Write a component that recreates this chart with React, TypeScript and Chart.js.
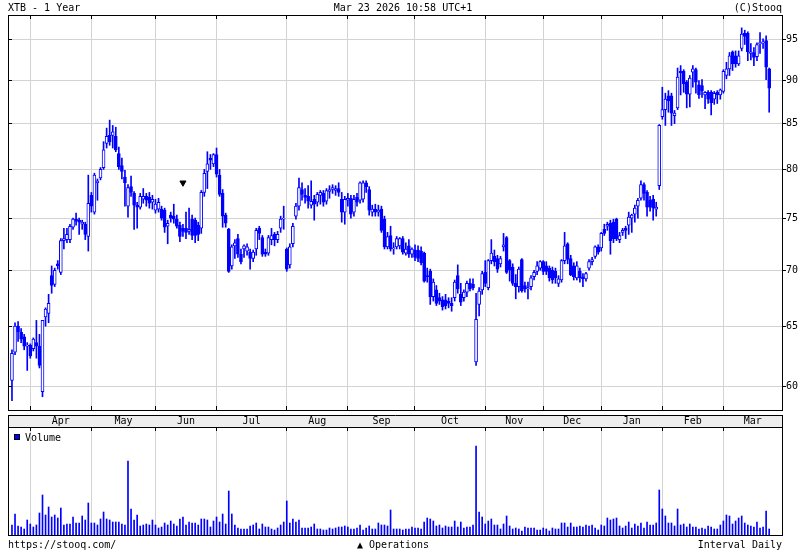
import React, { useEffect, useRef } from "react";
import { Chart, registerables } from "chart.js";
Chart.register(...registerables);

// ---- data (trading-day index 0 = Mar 24 2025 ... 248 = Mar 23 2026) ----
const monthStarts = [6, 26, 47, 67, 90, 110, 132, 155, 174, 193, 213, 233];
const monthLabels = ["Apr", "May", "Jun", "Jul", "Aug", "Sep", "Oct", "Nov", "Dec", "Jan", "Feb", "Mar"];
const priceTicks = [60, 65, 70, 75, 80, 85, 90, 95];

const opens = [
  60.5, 62.8, 65.0, 64.5, 64.1, 63.3, 63.4, 63.1, 63.6, 63.3,
  59.6, 65.8, 66.1, 69.5, 68.7, 70.6, 69.8, 72.8, 72.9, 72.9,
  74.1, 74.9, 74.8, 74.4, 74.4, 73.2, 77.3, 75.6, 78.6, 79.1,
  80.2, 82.8, 83.7, 83.7, 83.6, 81.7, 80.4, 79.2, 76.2, 78.2,
  77.5, 76.3, 76.1, 76.9, 77.2, 77.1, 76.6, 75.8, 75.9, 75.9,
  75.8, 74.2, 75.3, 75.2, 74.9, 74.3, 74.0, 74.0, 73.7, 74.9,
  74.8, 74.3, 74.0, 77.6, 79.8, 81.2, 80.6, 81.6, 79.4, 77.5,
  75.3, 73.9, 70.4, 72.3, 73.0, 71.5, 72.0, 71.8, 71.7, 71.1,
  72.0, 74.0, 73.1, 71.7, 71.6, 72.9, 73.4, 72.9, 74.0, 74.9,
  72.0, 70.5, 72.5, 75.2, 76.2, 77.9, 77.3, 77.2, 76.3, 76.9,
  76.6, 77.3, 77.5, 76.7, 77.7, 77.9, 77.8, 78.0, 76.9, 75.6,
  76.8, 77.0, 75.6, 77.1, 76.8, 76.9, 78.6, 77.9, 75.6, 75.9,
  75.6, 75.9, 74.9, 72.2, 73.3, 72.0, 72.2, 72.3, 73.0, 71.6,
  72.3, 71.5, 71.9, 71.9, 71.8, 71.6, 69.5, 69.9, 67.6, 68.2,
  67.5, 67.3, 67.3, 67.2, 67.0, 67.5, 69.5, 67.8, 67.5, 68.0,
  68.8, 68.7, 62.0, 66.9, 68.2, 69.8, 68.4, 70.9, 71.3, 71.1,
  70.6, 72.2, 73.1, 70.9, 70.3, 68.8, 68.5, 71.0, 68.6, 68.3,
  68.5, 69.4, 69.9, 70.2, 70.8, 70.4, 70.2, 70.0, 69.9, 68.8,
  69.1, 70.9, 72.5, 71.1, 70.4, 69.3, 69.9, 69.4, 69.2, 70.2,
  70.8, 71.3, 72.2, 72.1, 73.9, 74.2, 74.5, 74.6, 74.9, 72.9,
  73.6, 74.0, 74.3, 75.0, 75.4, 76.2, 77.0, 78.4, 77.6, 76.8,
  76.9, 75.9, 78.3, 85.8, 86.6, 88.2, 88.2, 85.9, 86.8, 91.1,
  91.1, 89.8, 88.4, 91.0, 91.3, 89.5, 89.4, 88.3, 88.6, 88.6,
  87.8, 88.6, 88.3, 88.7, 90.6, 91.4, 93.5, 93.0, 92.0, 93.9,
  95.8, 95.8, 93.3, 93.4, 92.9, 94.5, 94.6, 94.9, 91.4,
];
const highs = [
  63.0, 65.3, 65.4, 64.8, 64.3, 63.6, 63.5, 64.0, 65.5, 64.3,
  65.5, 66.6, 67.8, 70.4, 70.2, 70.9, 73.0, 74.0, 74.0, 74.4,
  75.0, 75.5, 75.0, 74.8, 74.6, 79.4, 77.6, 79.6, 79.0, 80.2,
  83.0, 84.5, 85.4, 84.8, 84.6, 82.4, 81.2, 79.9, 78.4, 79.3,
  77.7, 76.6, 77.5, 78.0, 77.5, 77.6, 77.3, 76.9, 77.0, 76.2,
  76.0, 74.8, 75.6, 76.4, 75.3, 74.6, 74.4, 75.6, 76.0, 75.3,
  75.0, 74.6, 77.8, 80.0, 81.9, 81.6, 81.7, 82.3, 80.0, 77.9,
  75.5, 74.0, 72.4, 72.9, 73.4, 72.0, 72.4, 72.5, 72.0, 71.9,
  74.0, 74.2, 73.3, 72.0, 73.3, 74.0, 73.6, 73.7, 75.2, 76.2,
  72.1, 72.5, 74.5, 76.5, 79.1, 78.6, 78.0, 78.3, 78.8, 77.3,
  77.6, 77.8, 77.8, 78.0, 78.3, 78.4, 78.3, 78.6, 77.6, 77.2,
  77.5, 77.3, 77.3, 77.5, 78.7, 78.8, 78.8, 78.2, 76.3, 76.4,
  76.3, 76.2, 75.2, 73.6, 74.2, 72.6, 73.2, 73.1, 73.2, 72.6,
  72.9, 72.1, 72.4, 72.3, 72.2, 71.7, 70.2, 70.1, 69.2, 68.6,
  67.9, 67.6, 67.8, 67.5, 67.5, 69.1, 70.5, 68.8, 68.2, 69.0,
  69.2, 69.2, 67.9, 68.4, 69.9, 70.9, 71.0, 72.9, 71.9, 71.4,
  71.3, 73.5, 73.2, 71.0, 70.6, 69.6, 70.3, 71.1, 68.9, 68.9,
  69.5, 70.0, 70.8, 70.9, 70.9, 70.8, 70.4, 70.3, 70.2, 69.5,
  71.0, 73.6, 72.6, 71.4, 70.7, 70.8, 70.2, 69.7, 69.8, 71.0,
  71.2, 72.3, 72.4, 73.6, 74.4, 74.6, 74.8, 74.9, 75.0, 73.6,
  74.0, 74.2, 75.6, 75.4, 76.3, 77.0, 78.8, 78.6, 77.8, 77.2,
  77.3, 76.6, 84.9, 89.2, 88.5, 88.8, 88.5, 86.5, 91.5, 91.8,
  91.3, 90.0, 90.6, 91.8, 91.5, 90.0, 90.1, 88.7, 88.8, 88.8,
  88.7, 88.8, 89.0, 91.3, 92.2, 93.4, 93.6, 93.6, 93.6, 96.5,
  96.2, 96.0, 94.5, 94.0, 94.6, 95.9, 95.1, 95.5, 91.5,
];
const lows = [
  58.9, 62.6, 63.7, 63.6, 63.0, 61.3, 62.3, 62.9, 62.3, 61.5,
  59.2, 65.0, 65.3, 67.9, 68.5, 70.1, 69.6, 72.0, 72.6, 72.6,
  73.9, 74.3, 73.4, 73.9, 72.9, 71.8, 75.6, 75.4, 76.8, 78.9,
  80.0, 82.3, 82.6, 82.3, 81.9, 80.0, 79.0, 76.2, 75.1, 77.2,
  73.9, 74.0, 75.9, 76.5, 76.2, 76.0, 75.9, 75.5, 75.6, 74.8,
  73.6, 72.5, 74.6, 74.5, 74.0, 72.7, 73.2, 73.0, 73.4, 72.9,
  72.6, 72.8, 73.5, 77.2, 78.0, 80.0, 80.3, 79.2, 77.2, 74.1,
  74.1, 69.8, 70.1, 71.1, 71.2, 70.6, 71.2, 71.4, 70.1, 70.8,
  71.4, 72.9, 71.3, 71.3, 71.4, 72.4, 72.3, 72.6, 73.6, 73.9,
  69.9, 70.2, 72.2, 74.9, 75.8, 76.8, 76.5, 76.0, 76.0, 74.8,
  76.2, 76.4, 76.2, 76.4, 77.0, 77.5, 77.3, 77.2, 74.6, 74.4,
  76.2, 75.0, 75.2, 76.2, 76.5, 76.6, 77.6, 75.3, 75.2, 75.2,
  75.2, 73.6, 72.0, 72.0, 71.8, 71.5, 72.0, 72.0, 71.5, 71.4,
  71.2, 71.2, 70.9, 70.8, 70.5, 68.9, 68.9, 66.9, 67.2, 66.8,
  66.9, 66.4, 66.5, 66.6, 66.3, 67.2, 67.9, 66.8, 67.2, 67.6,
  68.1, 68.2, 61.7, 65.9, 67.8, 68.5, 68.2, 70.6, 70.4, 69.8,
  70.3, 71.8, 69.7, 69.0, 68.6, 67.4, 68.0, 68.0, 68.0, 67.4,
  68.2, 69.1, 69.6, 70.0, 69.6, 69.6, 69.0, 68.8, 68.8, 68.5,
  68.9, 70.6, 70.6, 69.5, 69.1, 69.1, 68.9, 68.5, 69.0, 70.0,
  70.5, 71.1, 71.5, 71.8, 73.3, 73.8, 71.5, 72.6, 72.8, 72.6,
  73.3, 73.0, 73.4, 73.6, 74.6, 75.0, 76.8, 76.8, 75.2, 75.7,
  74.8, 75.2, 77.9, 85.5, 84.8, 86.3, 84.8, 85.0, 86.6, 88.3,
  88.6, 86.8, 86.9, 89.2, 88.5, 87.9, 88.0, 86.7, 87.3, 86.0,
  87.2, 87.3, 87.8, 88.5, 90.2, 90.6, 91.2, 91.6, 91.8, 93.6,
  94.4, 92.4, 92.5, 91.8, 92.4, 93.3, 93.9, 90.1, 86.3,
];
const closes = [
  62.7, 65.0, 64.5, 63.9, 63.3, 63.4, 62.5, 63.9, 63.3, 61.7,
  65.5, 66.5, 67.0, 68.6, 70.0, 70.4, 72.8, 73.0, 73.4, 74.2,
  74.9, 74.7, 74.6, 74.6, 73.4, 76.5, 76.2, 79.4, 78.8, 80.0,
  82.1, 83.6, 83.0, 84.1, 82.1, 80.3, 79.8, 78.6, 78.1, 77.6,
  76.3, 76.1, 77.2, 77.2, 76.8, 76.5, 76.9, 76.4, 76.6, 75.0,
  74.1, 74.5, 75.0, 74.9, 74.2, 73.2, 73.7, 73.6, 73.9, 73.3,
  73.3, 73.4, 77.6, 79.6, 80.6, 81.0, 81.6, 79.5, 77.4, 75.2,
  74.5, 69.9, 72.2, 72.6, 71.5, 70.8, 72.3, 72.2, 71.1, 71.7,
  73.8, 73.5, 71.5, 71.5, 73.1, 73.3, 72.9, 73.4, 74.9, 75.0,
  70.1, 72.2, 74.2, 76.2, 78.1, 77.4, 77.1, 76.7, 76.7, 76.4,
  77.4, 77.6, 76.6, 77.8, 77.9, 78.1, 78.0, 77.6, 75.6, 76.9,
  77.0, 75.4, 76.9, 76.6, 78.6, 78.6, 78.2, 75.8, 75.9, 75.6,
  75.8, 73.8, 72.2, 73.2, 72.0, 72.1, 73.0, 73.0, 71.7, 72.0,
  71.5, 72.0, 71.2, 71.1, 70.7, 69.0, 69.4, 67.6, 68.9, 67.0,
  67.2, 66.7, 66.8, 67.0, 66.8, 68.9, 68.3, 67.1, 68.0, 68.8,
  68.3, 68.4, 65.6, 68.1, 69.7, 68.8, 70.9, 71.6, 70.8, 70.1,
  71.1, 72.4, 69.8, 70.0, 68.8, 68.5, 70.1, 68.1, 68.3, 68.4,
  69.3, 69.8, 70.4, 70.8, 69.9, 69.9, 69.3, 69.1, 69.3, 69.2,
  70.9, 72.3, 71.0, 69.6, 69.4, 70.4, 69.3, 69.2, 69.7, 70.8,
  71.0, 72.2, 71.7, 73.5, 73.5, 74.4, 72.8, 73.0, 73.0, 73.3,
  73.8, 73.8, 75.1, 75.3, 76.0, 76.8, 78.4, 77.5, 76.1, 76.1,
  76.0, 76.1, 84.8, 86.6, 87.8, 87.6, 86.2, 86.2, 90.4, 90.9,
  89.6, 88.4, 90.3, 91.4, 89.8, 88.3, 88.8, 88.6, 87.8, 87.4,
  88.5, 88.3, 88.9, 91.1, 91.4, 93.0, 92.0, 92.0, 93.0, 95.7,
  95.4, 93.5, 93.5, 92.8, 94.4, 94.6, 94.7, 91.6, 89.1,
];
// volume, thousands of shares
const volumesK = [
  10, 21, 9, 8, 6, 15, 11, 8, 10, 22,
  40, 20, 28, 18, 20, 17, 27, 10, 11, 11,
  18, 12, 12, 19, 15, 32, 12, 12, 10, 16,
  23, 16, 15, 13, 13, 13, 11, 10, 74, 26,
  15, 20, 9, 10, 11, 10, 15, 10, 7, 8,
  12, 10, 14, 11, 9, 16, 18, 10, 13, 12,
  12, 10, 16, 16, 15, 8, 14, 18, 13, 21,
  11, 44, 21, 10, 7, 6, 6, 6, 9, 10,
  12, 6, 11, 8, 8, 6, 5, 7, 10, 13,
  34, 12, 16, 13, 15, 7, 7, 7, 8, 11,
  6, 6, 5, 5, 7, 6, 7, 8, 8, 9,
  8, 6, 6, 7, 10, 5, 7, 9, 6, 6,
  12, 10, 10, 9, 25, 6, 6, 6, 5, 6,
  6, 8, 7, 7, 6, 13, 17, 16, 14, 9,
  10, 7, 9, 8, 8, 14, 8, 13, 7, 8,
  8, 10, 89, 23, 18, 11, 14, 16, 10, 10,
  6, 11, 19, 9, 6, 7, 6, 4, 8, 7,
  7, 7, 5, 5, 7, 6, 4, 7, 6, 6,
  12, 12, 8, 12, 8, 8, 9, 8, 10, 9,
  10, 7, 5, 10, 9, 17, 15, 16, 17, 9,
  7, 9, 13, 7, 11, 9, 12, 7, 13, 10,
  10, 12, 45, 26, 19, 12, 12, 9, 26, 10,
  11, 8, 11, 8, 8, 6, 7, 6, 9, 8,
  6, 6, 10, 14, 20, 19, 11, 14, 17, 19,
  12, 10, 9, 8, 13, 7, 8, 24, 6,
];
const operationIdx = [56];
const operationMark = [78.6];

// ---- styling ----
const FONT = "'DejaVu Sans Mono', monospace";
const BLUE = "#0000ff";
const GRID = "#d3d3d3";
const X_MIN = -1.3;
const X_MAX = 252.2;
const Y_MIN = 58.17;
const Y_MAX = 98.16;
const VOL_MAX = 108;

const align = (p: number) => Math.round(p - 0.5) + 0.5;

const xScaleOpts = () => ({
  type: "linear" as const,
  min: X_MIN,
  max: X_MAX,
  offset: false,
  afterBuildTicks: (s: any) => {
    s.ticks = monthStarts.map((v) => ({ value: v }));
  },
  ticks: { display: false, autoSkip: false },
  grid: { color: GRID, drawTicks: false, offset: false },
  border: { display: false },
  afterFit: (s: any) => {
    s.height = 0;
  },
});

const priceDecor = {
  id: "priceDecor",
  afterDraw(chart: any) {
    const { ctx, chartArea, scales } = chart;
    const { left, right, top, bottom } = chartArea;
    ctx.save();
    ctx.strokeStyle = "#000";
    ctx.lineWidth = 1;
    ctx.strokeRect(left + 0.5, top + 0.5, right - left, bottom - top);
    ctx.beginPath();
    priceTicks.forEach((v) => {
      const y = align(scales.y.getPixelForValue(v));
      ctx.moveTo(left, y);
      ctx.lineTo(left + 4, y);
    });
    monthStarts.forEach((v) => {
      const x = align(scales.x.getPixelForValue(v));
      ctx.moveTo(x, top);
      ctx.lineTo(x, top + 4);
      ctx.moveTo(x, bottom);
      ctx.lineTo(x, bottom - 4);
    });
    ctx.stroke();
    ctx.fillStyle = "#000";
    ctx.font = `10px ${FONT}`;
    ctx.textBaseline = "alphabetic";
    ctx.textAlign = "left";
    ctx.fillText("XTB - 1 Year", 8, 11);
    ctx.textAlign = "center";
    ctx.fillText("Mar 23 2026 10:58 UTC+1", 403, 11);
    ctx.textAlign = "right";
    ctx.fillText("(C)Stooq", 782, 11);
    ctx.restore();
  },
};

const volumeDecor = {
  id: "volumeDecor",
  afterDraw(chart: any) {
    const { ctx, chartArea, scales } = chart;
    const { left, right, top, bottom } = chartArea;
    ctx.save();
    // month band
    ctx.fillStyle = "#eeeeee";
    ctx.fillRect(left, 0, right - left, top);
    ctx.strokeStyle = "#000";
    ctx.lineWidth = 1;
    ctx.beginPath();
    ctx.moveTo(left, 0.5);
    ctx.lineTo(right + 1, 0.5);
    ctx.moveTo(left + 0.5, 0);
    ctx.lineTo(left + 0.5, top);
    ctx.moveTo(right + 0.5, 0);
    ctx.lineTo(right + 0.5, top);
    ctx.stroke();
    ctx.strokeRect(left + 0.5, top + 0.5, right - left, bottom - top);
    ctx.beginPath();
    monthStarts.forEach((v) => {
      const x = align(scales.x.getPixelForValue(v));
      ctx.moveTo(x, top);
      ctx.lineTo(x, top + 4);
    });
    ctx.stroke();
    ctx.fillStyle = "#000";
    ctx.font = `10px ${FONT}`;
    ctx.textBaseline = "alphabetic";
    ctx.textAlign = "center";
    monthStarts.forEach((v, k) => {
      const x0 = scales.x.getPixelForValue(v);
      const x1 = k + 1 < monthStarts.length ? scales.x.getPixelForValue(monthStarts[k + 1]) : right;
      ctx.fillText(monthLabels[k], (x0 + x1) / 2, 9);
    });
    // legend
    ctx.fillStyle = BLUE;
    ctx.fillRect(14, top + 7, 6, 6);
    ctx.strokeStyle = "#000";
    ctx.strokeRect(14.5, top + 7.5, 5, 5);
    ctx.fillStyle = "#000";
    ctx.textAlign = "left";
    ctx.fillText("Volume", 25, top + 14);
    // footer
    ctx.fillText("https://stooq.com/", 8, 133);
    ctx.textAlign = "center";
    ctx.fillText("\u25B2 Operations", 393, 133);
    ctx.textAlign = "right";
    ctx.fillText("Interval Daily", 782, 133);
    ctx.restore();
  },
};

export default function App() {
  const refA = useRef<HTMLCanvasElement>(null);
  const refB = useRef<HTMLCanvasElement>(null);

  useEffect(() => {
    Chart.defaults.font.family = FONT;
    const up = closes.map((c, i) => c >= opens[i]);
    const priceChart = new Chart(refA.current!, {
      type: "bar",
      data: {
        datasets: [
          {
            type: "line",
            label: "Operations",
            data: operationIdx.map((x, k) => ({ x, y: operationMark[k] })),
            showLine: false,
            pointStyle: "triangle",
            pointRotation: 180,
            pointRadius: 3.5,
            pointBackgroundColor: "#000",
            pointBorderColor: "#000",
            pointBorderWidth: 1,
            order: 0,
          } as any,
          {
            label: "body",
            data: opens.map((o, i) => ({ x: i, y: [o, closes[i]] })),
            backgroundColor: up.map((u) => (u ? "#ffffff" : BLUE)),
            borderColor: BLUE,
            borderWidth: 1,
            borderSkipped: false,
            barThickness: 3,
            minBarLength: 1,
            grouped: false,
            order: 1,
          } as any,
          {
            label: "wick",
            data: lows.map((l, i) => ({ x: i, y: [l, highs[i]] })),
            backgroundColor: BLUE,
            borderWidth: 0,
            barThickness: 1,
            grouped: false,
            order: 2,
          } as any,
        ],
      },
      options: {
        animation: false,
        responsive: false,
        devicePixelRatio: 1,
        layout: { padding: { left: 8, top: 15, right: 0, bottom: 1 } },
        plugins: { legend: { display: false }, tooltip: { enabled: false } },
        scales: {
          x: xScaleOpts() as any,
          y: {
            type: "logarithmic",
            position: "right",
            min: Y_MIN,
            max: Y_MAX,
            afterBuildTicks: (s: any) => {
              s.ticks = priceTicks.map((v) => ({ value: v }));
            },
            ticks: {
              callback: (v: any) => String(v),
              font: { family: FONT, size: 10 },
              color: "#000",
              padding: 0,
              autoSkip: false,
            },
            grid: { color: GRID, tickLength: 4, tickColor: "#000" },
            border: { display: false },
            afterFit: (s: any) => {
              s.width = 18;
            },
          } as any,
        },
      },
      plugins: [priceDecor],
    });

    const volumeChart = new Chart(refB.current!, {
      type: "bar",
      data: {
        datasets: [
          {
            label: "Volume",
            data: volumesK.map((v, i) => ({ x: i, y: v })),
            backgroundColor: BLUE,
            borderWidth: 0,
            barThickness: 1,
            grouped: false,
          } as any,
        ],
      },
      options: {
        animation: false,
        responsive: false,
        devicePixelRatio: 1,
        layout: { padding: { left: 8, top: 12, right: 18, bottom: 15 } },
        plugins: { legend: { display: false }, tooltip: { enabled: false } },
        scales: {
          x: xScaleOpts() as any,
          y: { type: "linear", display: false, min: 0, max: VOL_MAX } as any,
        },
      },
      plugins: [volumeDecor],
    });

    return () => {
      priceChart.destroy();
      volumeChart.destroy();
    };
  }, []);

  return (
    <div style={{ position: "fixed", left: 0, top: 0, width: 800, height: 550, background: "#fff" }}>
      <canvas ref={refA} width={800} height={416} style={{ position: "absolute", left: 0, top: 0 }} />
      <canvas ref={refB} width={800} height={135} style={{ position: "absolute", left: 0, top: 415 }} />
    </div>
  );
}
